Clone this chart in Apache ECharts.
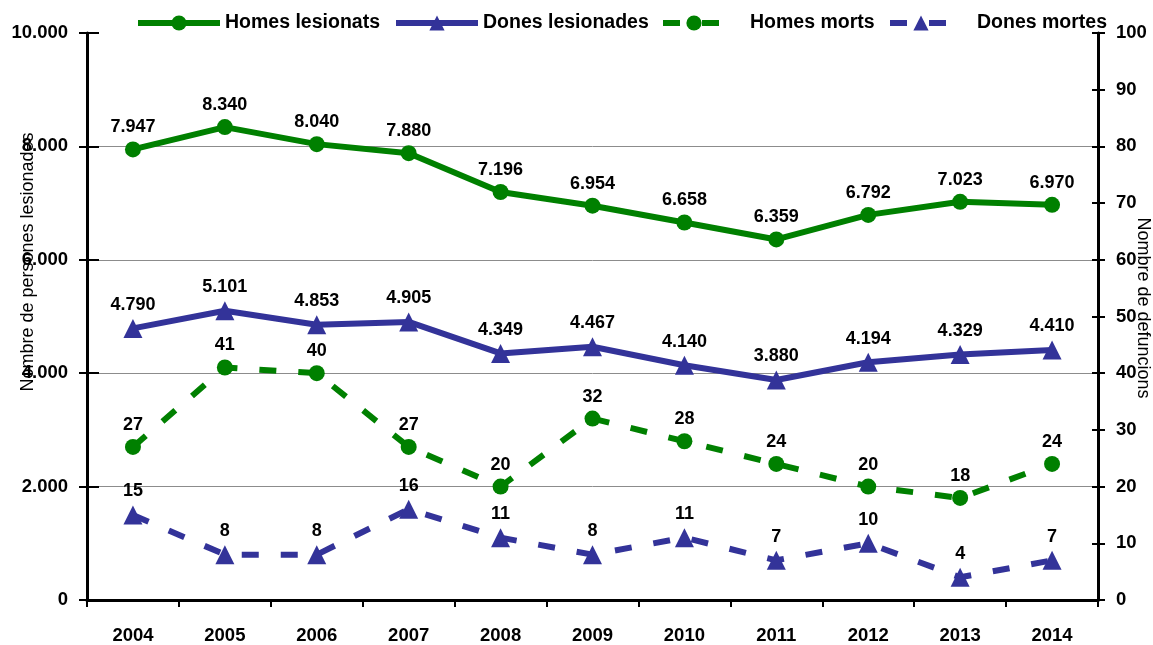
<!DOCTYPE html>
<html>
<head>
<meta charset="utf-8">
<title>Persones lesionades i defuncions</title>
<script src="https://cdn.jsdelivr.net/npm/echarts@6/dist/echarts.min.js"></script>
<style>
  html, body { margin: 0; padding: 0; background: #ffffff; }
  #chart { width: 1153px; height: 645px; }
</style>
</head>
<body>
<div id="chart"></div>
<script>
// Years on the category axis
const years = ['2004', '2005', '2006', '2007', '2008', '2009', '2010', '2011', '2012', '2013', '2014'];

// Injured people (left axis)
const homesLesionats = [7947, 8340, 8040, 7880, 7196, 6954, 6658, 6359, 6792, 7023, 6970];
const donesLesionades = [4790, 5101, 4853, 4905, 4349, 4467, 4140, 3880, 4194, 4329, 4410];

// Deaths (right axis)
const homesMorts = [27, 41, 40, 27, 20, 32, 28, 24, 20, 18, 24];
const donesMortes = [15, 8, 8, 16, 11, 8, 11, 7, 10, 4, 7];

// Axis ranges
const leftAxisMax = 10000;
const leftAxisStep = 2000;
const rightAxisMax = 100;
const rightAxisStep = 10;

const GREEN = '#008000';
const BLUE = '#333399';
const SANS = "'Liberation Sans', Arial, sans-serif";

// Catalan thousands separator: 7947 -> 7.947
function withDots(v) {
  return String(Math.round(v)).replace(/\B(?=(\d{3})+(?!\d))/g, '.');
}

const chart = echarts.init(document.getElementById('chart'), null, { renderer: 'canvas' });

const legendText = { fontFamily: SANS, fontWeight: 'bold', fontSize: 19.5, color: '#000' };

function makeLegend(name, left, iconWidth, textPad) {
  return {
    data: [name],
    left: left,
    top: 8,
    itemWidth: iconWidth,
    itemHeight: 19,
    lineStyle: { width: 6 },
    textStyle: Object.assign({ padding: [0, 0, 0, textPad] }, legendText)
  };
}

const dataLabel = {
  show: true,
  position: 'top',
  distance: 5,
  fontFamily: SANS,
  fontWeight: 'bold',
  fontSize: 18,
  color: '#000'
};

const axisFont = { fontFamily: SANS, fontWeight: 'bold', fontSize: 18.5, color: '#000' };

const option = {
  animation: false,
  backgroundColor: '#ffffff',
  grid: { left: 87, right: 55, top: 33, bottom: 44, containLabel: false },
  legend: [
    makeLegend('Homes lesionats', 130, 82, 0),
    makeLegend('Dones lesionades', 388, 82, 0),
    makeLegend('Homes morts', 655, 62, 20),
    makeLegend('Dones mortes', 882, 62, 20)
  ],
  xAxis: {
    type: 'category',
    data: years,
    boundaryGap: true,
    axisLine: { show: true, lineStyle: { color: '#000', width: 3 } },
    axisTick: { show: true, alignWithLabel: false, length: 7, lineStyle: { color: '#000', width: 2 } },
    axisLabel: Object.assign({ margin: 26 }, axisFont),
    splitLine: { show: false }
  },
  yAxis: [
    {
      type: 'value',
      position: 'left',
      min: 0,
      max: leftAxisMax,
      interval: leftAxisStep,
      axisLine: { show: true, lineStyle: { color: '#000', width: 3 } },
      axisTick: { show: true, inside: false, length: 8, lineStyle: { color: '#000', width: 2 } },
      axisLabel: Object.assign({ margin: 19, formatter: withDots }, axisFont),
      splitLine: { show: true, showMinLine: false, showMaxLine: false, lineStyle: { color: '#8c8c8c', width: 1 } }
    },
    {
      type: 'value',
      position: 'right',
      min: 0,
      max: rightAxisMax,
      interval: rightAxisStep,
      axisLine: { show: true, lineStyle: { color: '#000', width: 3 } },
      axisTick: { show: true, inside: false, length: 7, lineStyle: { color: '#000', width: 2 } },
      axisLabel: Object.assign({ margin: 18 }, axisFont),
      splitLine: { show: false }
    },
    {
      // inner half of the crossing ticks on the left axis
      type: 'value',
      position: 'left',
      min: 0,
      max: leftAxisMax,
      interval: leftAxisStep,
      axisLine: { show: false },
      axisTick: { show: true, inside: true, length: 12, lineStyle: { color: '#000', width: 2 } },
      axisLabel: { show: false },
      splitLine: { show: false }
    },
    {
      // inner half of the crossing ticks on the right axis
      type: 'value',
      position: 'right',
      min: 0,
      max: rightAxisMax,
      interval: rightAxisStep,
      axisLine: { show: false },
      axisTick: { show: true, inside: true, length: 6, lineStyle: { color: '#000', width: 2 } },
      axisLabel: { show: false },
      splitLine: { show: false }
    }
  ],
  series: [
    {
      name: 'Homes lesionats',
      type: 'line',
      yAxisIndex: 0,
      data: homesLesionats,
      color: GREEN,
      symbol: 'circle',
      symbolSize: 16,
      lineStyle: { color: GREEN, width: 6 },
      itemStyle: { color: GREEN },
      label: Object.assign({ formatter: p => withDots(p.value) }, dataLabel),
      z: 4
    },
    {
      name: 'Dones lesionades',
      type: 'line',
      yAxisIndex: 0,
      data: donesLesionades,
      color: BLUE,
      symbol: 'triangle',
      symbolSize: 19,
      lineStyle: { color: BLUE, width: 6 },
      itemStyle: { color: BLUE },
      label: Object.assign({ formatter: p => withDots(p.value) }, dataLabel),
      z: 4
    },
    {
      name: 'Homes morts',
      type: 'line',
      yAxisIndex: 1,
      data: homesMorts,
      color: GREEN,
      symbol: 'circle',
      symbolSize: 16,
      lineStyle: { color: GREEN, width: 6, type: [17, 22], cap: 'butt' },
      itemStyle: { color: GREEN },
      label: Object.assign({}, dataLabel),
      z: 3
    },
    {
      name: 'Dones mortes',
      type: 'line',
      yAxisIndex: 1,
      data: donesMortes,
      color: BLUE,
      symbol: 'triangle',
      symbolSize: 19,
      lineStyle: { color: BLUE, width: 6, type: [17, 22], cap: 'butt' },
      itemStyle: { color: BLUE },
      label: Object.assign({}, dataLabel),
      z: 3
    }
  ],
  graphic: [
    {
      type: 'text',
      x: 28,
      y: 262,
      rotation: Math.PI / 2,
      style: {
        text: 'Nombre de persones lesionades',
        fontFamily: SANS,
        fontSize: 18,
        fill: '#000',
        align: 'center',
        verticalAlign: 'middle'
      },
      z: 10
    },
    {
      type: 'text',
      x: 1143,
      y: 308,
      rotation: -Math.PI / 2,
      style: {
        text: 'Nombre de defuncions',
        fontFamily: SANS,
        fontSize: 18,
        fill: '#000',
        align: 'center',
        verticalAlign: 'middle'
      },
      z: 10
    }
  ]
};

chart.setOption(option);
</script>
</body>
</html>
